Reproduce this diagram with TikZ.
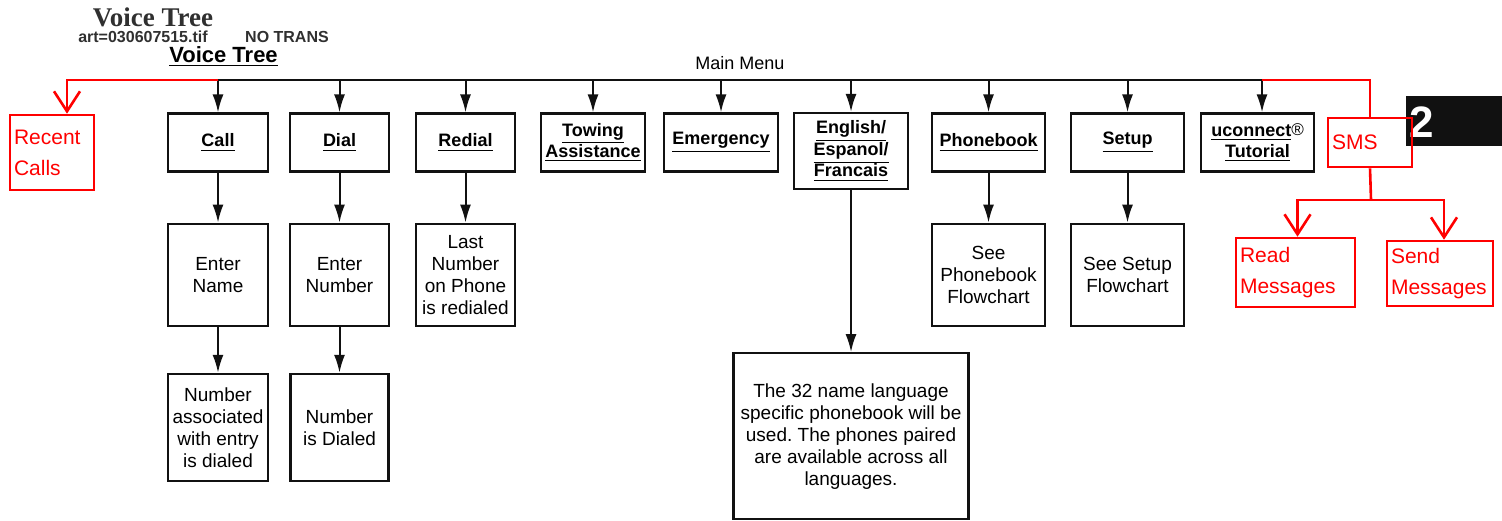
\documentclass[tikz,border=0pt]{standalone}
\usepackage{fontspec}
\setmainfont{Liberation Sans}
\newfontfamily\vtserif{Liberation Serif}
\usetikzlibrary{
  arrows.meta,
  positioning,
  calc
}
\frenchspacing
\definecolor{vtRed}{HTML}{FF0000}
\definecolor{vtInk}{HTML}{111111}
\definecolor{vtGray}{HTML}{303030}
\tikzset{
  vtnode/.style={
    draw=vtInk, line width=1.1pt, align=center, inner sep=1pt,
    font=\fontsize{9.5}{11}\selectfont
  },
  menubox/.style={vtnode, minimum width=50pt, minimum height=29pt, font=\fontsize{9}{10.75}\selectfont\bfseries},
  stepbox/.style={vtnode, minimum width=50pt, minimum height=51pt},
  smsbox/.style={draw=vtRed, line width=1.3pt, text=vtRed, align=left, inner sep=2pt, font=\fontsize{10.5}{15.5}\selectfont},
  flow/.style={-{Latex[length=9pt, width=5.5pt]}, line width=1pt, vtInk},
  redline/.style={line width=1.3pt, vtRed},
  redflow/.style={redline, -{Straight Barb[length=10pt, width=13pt]}},
  headtext/.style={inner sep=0pt, text=vtGray, font=\fontsize{8}{9}\selectfont\bfseries}
}

\begin{document}
\begin{tikzpicture}[x=0.5pt, y=-0.5pt, node distance=25pt]
  \useasboundingbox (0,0) rectangle (1502,520);

  % headings
  \node[headtext, font=\vtserif\bfseries\fontsize{13.5}{14}\selectfont] (arttitle) at (153,17) {Voice Tree};
  \node[headtext] (artref) at (143,37) {art=030607515.tif};
  \node[headtext] (notrans) at (287,37) {NO TRANS};
  \node[inner sep=0pt, font=\fontsize{11}{12}\selectfont\bfseries] (title) at (223.5,57) {\underline{Voice Tree}};
  \node[inner sep=0pt, font=\fontsize{9}{10}\selectfont] (mainmenu) at (740,63) {Main Menu};

  % main menu row
  \node[menubox] (call) at (218,142.5) {\underline{Call}};
  \node[menubox, minimum width=49.5pt] (dial) at (339.5,142.5) {\underline{Dial}};
  \node[menubox, minimum width=49.5pt] (redial) at (465.5,142.5) {\underline{Redial}};
  \node[menubox, minimum width=52pt] (towing) at (593,142.5) {\underline{Towing}\\\underline{Assistance}};
  \node[menubox, minimum width=57pt] (emerg) at (721,142.5) {\underline{Emergency}};
  \node[menubox, minimum width=57pt, minimum height=38pt] (lang) at (851,151) {\underline{English/}\\\underline{Espanol/}\\\underline{Francais}};
  \node[menubox, minimum width=56.5pt] (pbook) at (988.5,142.5) {\underline{Phonebook}};
  \node[menubox, minimum width=56.5pt] (setup) at (1127.5,142.5) {\underline{Setup}};
  \node[menubox, minimum width=56.5pt] (tutor) at (1257.5,142.5) {\underline{uconnect}{\mdseries\fontsize{8.5}{8.5}\selectfont\raisebox{0.5pt}{®}}\\\underline{Tutorial}};

  % second and third rows
  \node[stepbox, below=of call] (entername) {Enter\\Name};
  \node[stepbox, minimum width=49.5pt, below=of dial] (enternum) {Enter\\Number};
  \node[stepbox, minimum width=49.5pt, below=of redial] (lastnum) {Last\\Number\\on Phone\\is redialed};
  \node[stepbox, minimum width=56.5pt, below=of pbook] (seepbook) {See\\Phonebook\\Flowchart};
  \node[stepbox, minimum width=56.5pt, below=of setup] (seesetup) {See Setup\\Flowchart};
  \node[stepbox, minimum height=53.5pt, below=23pt of entername] (numassoc) {Number\\associated\\with entry\\is dialed};
  \node[stepbox, minimum width=49pt, minimum height=53.5pt, below=23pt of enternum] (numdialed) {Number\\is Dialed};
  \node[stepbox, minimum width=117.5pt, minimum height=83pt, below=81pt of lang] (langnote)
    {The 32 name language\\specific phonebook will be\\used. The phones paired\\are available across all\\languages.};

  % red additions
  \node[smsbox, text width=38pt, minimum height=37.5pt] (recent) at (52,152.5) {Recent\\Calls};
  \node[fill=vtInk, minimum width=48pt, minimum height=25pt, inner sep=0pt] (badge) at (1454,121) {};
  \node[inner sep=0pt, text=white, font=\fontsize{22}{22}\selectfont\bfseries] (badgenum) at (1422,122) {2};
  \node[smsbox, text width=38pt, minimum height=24.5pt] (sms) at (1370,142.5) {SMS};
  \node[smsbox, text width=55.5pt, minimum height=34.5pt] (readmsg) at (1295.5,272.5) {Read\\Messages};
  \node[smsbox, text width=49pt, minimum height=32.5pt] (sendmsg) at (1440,273.5) {Send\\Messages};

  % bus
  \coordinate (busL) at (218,80);
  \coordinate (busR) at (1262,80);
  \coordinate (smsfork) at (1371,200);
  \draw[line width=1pt, vtInk] (busL) -- (busR);
  \foreach \n in {call, dial, redial, towing, emerg, lang, pbook, setup}
    \draw[flow] (\n.north |- busL) -- (\n.north);
  \draw[flow] (busR) -- (busR |- tutor.north);

  \draw[flow] (call) -- (entername);
  \draw[flow] (entername) -- (numassoc);
  \draw[flow] (dial) -- (enternum);
  \draw[flow] (enternum) -- (numdialed);
  \draw[flow] (redial) -- (lastnum);
  \draw[flow] (lang) -- (lang.south |- langnote.north);
  \draw[flow] (pbook) -- (seepbook);
  \draw[flow] (setup) -- (seesetup);

  \draw[redflow] (busL) -| ([xshift=7.5pt]recent.north);
  \draw[redline] (busR) -| (sms.north);
  \draw[redline] (sms.south) -- (smsfork);
  \draw[redflow] (smsfork) -| ([xshift=1pt]readmsg.north);
  \draw[redflow] (smsfork) -| ([xshift=2pt]sendmsg.north);
\end{tikzpicture}
\end{document}
